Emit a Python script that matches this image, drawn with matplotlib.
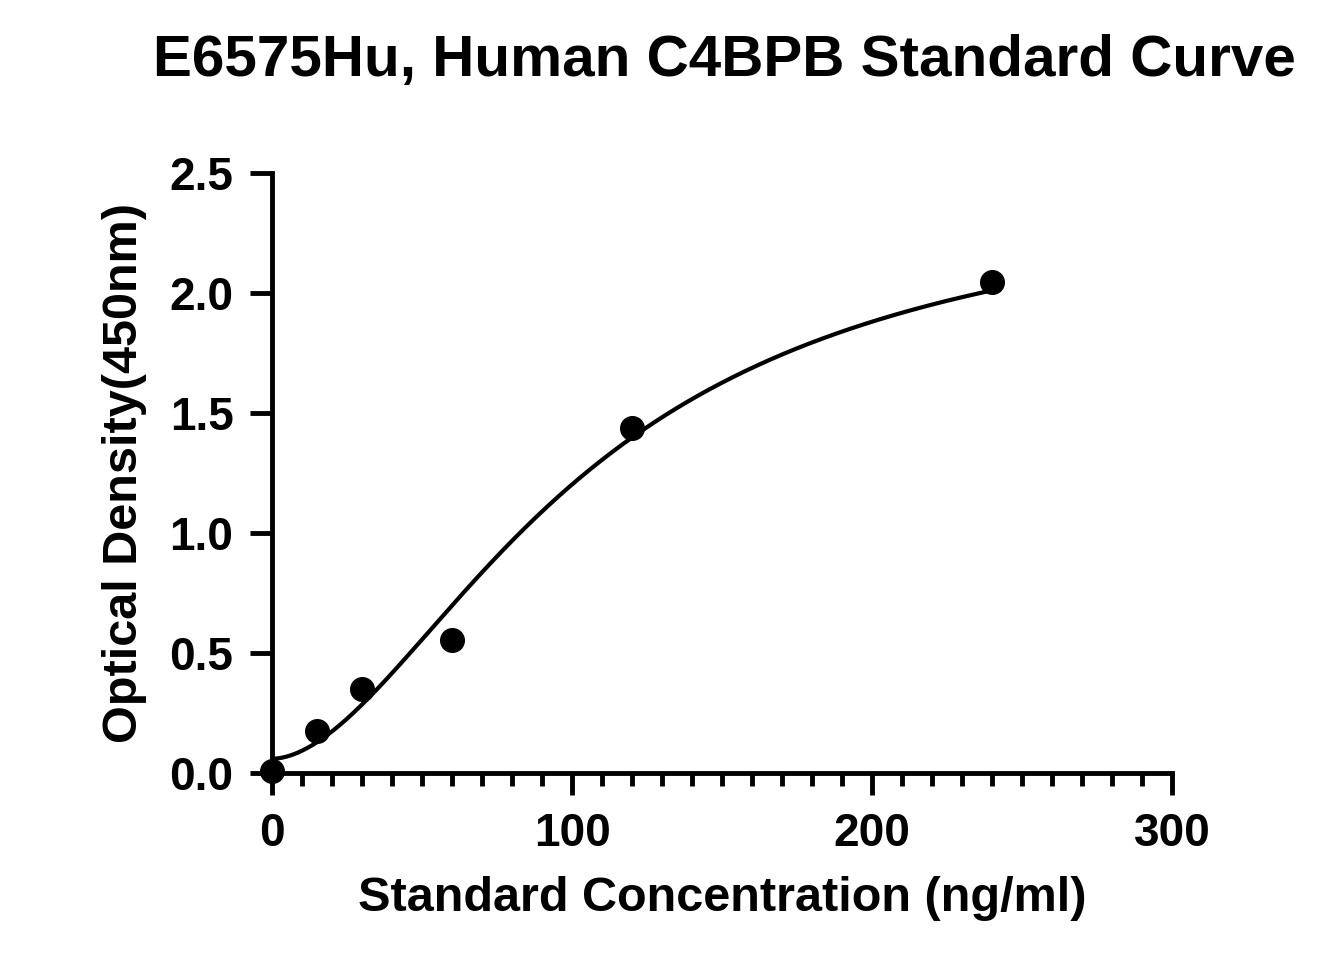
import numpy as np
import matplotlib
matplotlib.use("Agg")
import matplotlib.pyplot as plt
from matplotlib.ticker import MultipleLocator

plt.rcParams['font.family'] = ['Liberation Sans', 'DejaVu Sans']
plt.rcParams['font.weight'] = 'bold'

conc = [0, 15, 30, 60, 120, 240]
od = [0.01, 0.175, 0.35, 0.555, 1.435, 2.045]

# 4PL fit parameters
bottom, top, ec50, hill = 0.06, 2.45, 105.0, 1.8

fig = plt.figure(figsize=(13.35, 9.75), dpi=100)
ax = fig.add_axes([0.204, 0.207, 0.674, 0.616])

xs = np.linspace(0, 240, 400)
ys = bottom + (top - bottom) * xs ** hill / (ec50 ** hill + xs ** hill)
ax.plot(xs, ys, color='black', lw=3, clip_on=False)
ax.plot(conc, od, 'o', color='black', ms=17, clip_on=False, zorder=3)

ax.set_xlim(0, 300)
ax.set_ylim(0, 2.5)
ax.xaxis.set_major_locator(MultipleLocator(100))
ax.xaxis.set_minor_locator(MultipleLocator(10))
ax.yaxis.set_major_locator(MultipleLocator(0.5))
ax.yaxis.set_major_formatter(matplotlib.ticker.FormatStrFormatter('%.1f'))
for s in ['top', 'right']:
    ax.spines[s].set_visible(False)
for s in ['left', 'bottom']:
    ax.spines[s].set_linewidth(3.5)
ax.tick_params(which='major', length=16, width=3.5, labelsize=33, pad=12)
ax.tick_params(which='minor', length=9, width=3.5)

ax.set_xlabel('Standard Concentration (ng/ml)', fontsize=35, fontweight='bold', labelpad=14)
ax.set_ylabel('Optical Density(450nm)', fontsize=35, fontweight='bold', labelpad=16)
fig.suptitle('E6575Hu, Human C4BPB Standard Curve', fontsize=42, fontweight='bold',
             x=0.543, y=0.965)

fig.savefig('out.png', dpi=100)
